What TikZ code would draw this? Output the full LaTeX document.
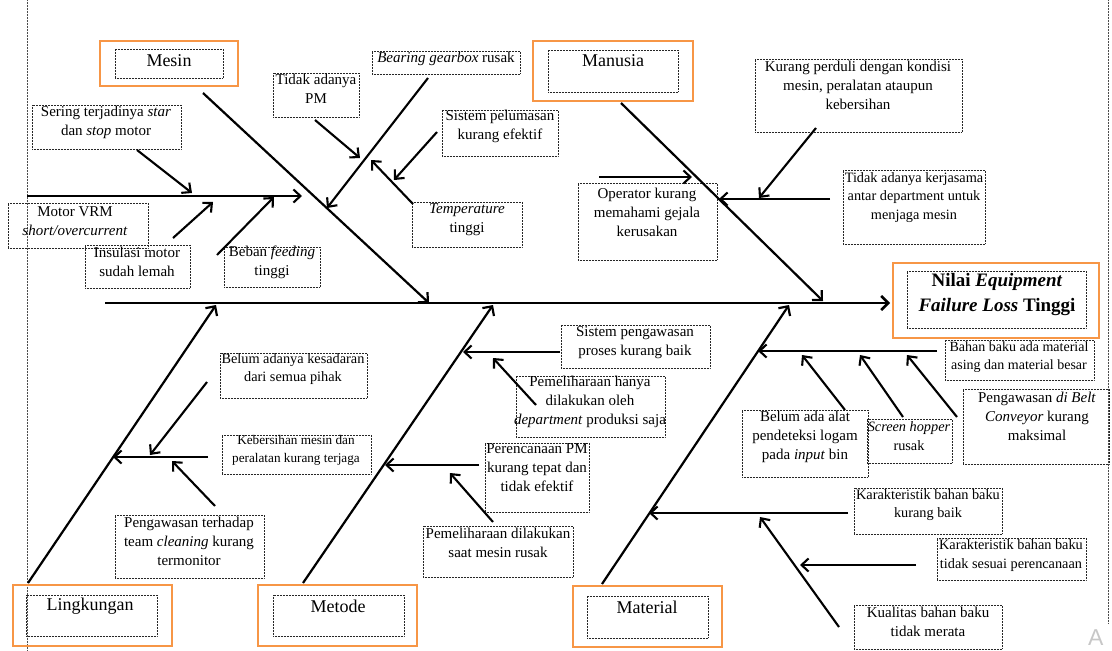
\documentclass[tikz,border=0pt]{standalone}
\usepackage{fontspec}
\setmainfont{Liberation Serif}
\newfontfamily\wmfont{Liberation Sans}
\usetikzlibrary{arrows.meta,fit}
\definecolor{orng}{RGB}{247,150,70}
\begin{document}
\begin{tikzpicture}[x=1pt,y=-1pt,
  dbox/.style={draw=black!85, line width=0.7pt, dash pattern=on 0.75pt off 0.75pt, inner sep=0pt},
  obox/.style={draw=orng, line width=2.6pt, inner sep=0pt},
  txt/.style={font=\fontsize{15}{19}\selectfont, align=center, inner sep=0pt},
  txts/.style={font=\fontsize{14.3}{18.5}\selectfont, align=center, inner sep=0pt},
  txtk/.style={font=\fontsize{13.2}{17.5}\selectfont, align=center, inner sep=0pt},
  cat/.style={font=\fontsize{18}{22}\selectfont, inner sep=0pt},
  bone/.style={line width=2.2pt, -{Straight Barb[length=7pt,width=14pt]}},
  arr/.style={line width=2.1pt, -{Straight Barb[length=7pt,width=13pt]}},
  guide/.style={draw=black!70, line width=0.7pt, dash pattern=on 0.75pt off 0.75pt}
]
\useasboundingbox (0,0) rectangle (1112,651);

% page guide lines
\coordinate (gL1) at (27,0);   \coordinate (gL2) at (27,651);
\coordinate (gR1) at (1108,0); \coordinate (gR2) at (1108,624);
\draw[guide] (gL1) -- (gL2);
\draw[guide] (gR1) -- (gR2);

% ===== category boxes =====
\node[obox, fit={(100,41) (238,86)}] (oMesin) {};
\node[dbox, fit={(115,49) (223,78)}] (iMesin) {};
\node[cat] (tMesin) at (169,61) {Mesin};

\node[obox, fit={(533,41) (693,101)}] (oManusia) {};
\node[dbox, fit={(548,50) (678,92)}] (iManusia) {};
\node[cat] (tManusia) at (613,61) {Manusia};

\node[obox, fit={(893,263) (1099,338)}] (oEffect) {};
\node[dbox, fit={(907,271) (1086,328)}] (iEffect) {};
\node[font=\fontsize{19}{25}\selectfont\bfseries, align=center, inner sep=0pt] (tEffect) at (997,295)
  {Nilai \textit{Equipment}\\\textit{Failure Loss} Tinggi};

\node[obox, fit={(13,585) (172,646)}] (oLing) {};
\node[dbox, fit={(26,595) (157,636)}] (iLing) {};
\node[cat] (tLing) at (90,606) {Lingkungan};

\node[obox, fit={(258,585) (417,646)}] (oMetode) {};
\node[dbox, fit={(273,595) (404,636)}] (iMetode) {};
\node[cat] (tMetode) at (338,606) {Metode};

\node[obox, fit={(573,586) (722,647)}] (oMaterial) {};
\node[dbox, fit={(587,596) (708,638)}] (iMaterial) {};
\node[cat] (tMaterial) at (647,607) {Material};

% ===== cause boxes =====
\node[dbox, fit={(32,105) (181,149)}] (bSering) {};
\node[txt] at (106,122.5) {Sering terjadinya \textit{star}\\dan \textit{stop} motor};

\node[dbox, fit={(8,203) (148,248)}] (bMotor) {};
\node[txt] at (75,221) {Motor VRM\\\textit{short/overcurrent}};

\node[dbox, fit={(85,245) (190,288)}] (bInsulasi) {};
\node[txt] at (137,261.5) {Insulasi motor\\sudah lemah};

\node[dbox, fit={(224,247) (320,287)}] (bBeban) {};
\node[txt] at (272,262.5) {Beban \textit{feeding}\\tinggi};

\node[dbox, fit={(273,73) (359,117)}] (bTidakPM) {};
\node[txt] at (316,89) {Tidak adanya\\PM};

\node[dbox, fit={(372,51) (520,74)}] (bBearing) {};
\node[txt] at (446,59) {\textit{Bearing gearbox} rusak};

\node[dbox, fit={(442,110) (558,156)}] (bPelumasan) {};
\node[txt] at (500,126.5) {Sistem pelumasan\\kurang efektif};

\node[dbox, fit={(412,202) (522,247)}] (bTemp) {};
\node[txt] at (467,219.5) {\textit{Temperature}\\tinggi};

\node[dbox, fit={(755,59) (962,132)}] (bPerduli) {};
\node[txt] at (858,85.5) {Kurang perduli dengan kondisi\\mesin, peralatan ataupun\\kebersihan};

\node[dbox, fit={(843,170) (985,244)}] (bKerjasama) {};
\node[txts] at (914,197.5) {Tidak adanya kerjasama\\antar department untuk\\menjaga mesin};

\node[dbox, fit={(578,183) (717,260)}] (bOperator) {};
\node[txt] at (647,212.5) {Operator kurang\\memahami gejala\\kerusakan};

\node[dbox, fit={(220,353) (367,398)}] (bKesadaran) {};
\node[txts] at (293,369) {Belum adanya kesadaran\\dari semua pihak};

\node[dbox, fit={(222,435) (371,474)}] (bKebersihan) {};
\node[txtk] at (296,450.5) {Kebersihan mesin dan\\peralatan kurang terjaga};

\node[dbox, fit={(115,515) (264,578)}] (bCleaning) {};
\node[txt] at (189,541.5) {Pengawasan terhadap\\team \textit{cleaning} kurang\\termonitor};

\node[dbox, fit={(561,325) (710,368)}] (bSistemPeng) {};
\node[txt] at (635,342.5) {Sistem pengawasan\\proses kurang baik};

\node[dbox, fit={(516,376) (665,437)}] (bPemHanya) {};
\node[txt] at (590,402) {Pemeliharaan hanya\\dilakukan oleh\\\textit{department} produksi saja};

\node[dbox, fit={(485,443) (589,512)}] (bPerencanaan) {};
\node[txt] at (537,468) {Perencanaan PM\\kurang tepat dan\\tidak efektif};

\node[dbox, fit={(423,526) (573,577)}] (bPemRusak) {};
\node[txt] at (498,542.5) {Pemeliharaan dilakukan\\saat mesin rusak};

\node[dbox, fit={(945,340) (1094,380)}] (bBahan) {};
\node[font=\fontsize{14}{18.5}\selectfont, align=center, inner sep=0pt] at (1019,357) {Bahan baku ada material\\asing dan material besar};

\node[dbox, fit={(742,410) (868,477)}] (bAlat) {};
\node[txt] at (805,437) {Belum ada alat\\pendeteksi logam\\pada \textit{input} bin};

\node[dbox, fit={(867,419) (952,463)}] (bScreen) {};
\node[txts] at (909,436) {\textit{Screen hopper}\\rusak};

\node[dbox, fit={(963,389) (1109,464)}] (bBelt) {};
\node[txt] at (1037,416.5) {Pengawasan \textit{di Belt}\\\textit{Conveyor} kurang\\maksimal};

\node[dbox, fit={(854,488) (1002,534)}] (bKarBaik) {};
\node[txts] at (928,505) {Karakteristik bahan baku\\kurang baik};

\node[dbox, fit={(937,538) (1086,580)}] (bKarSesuai) {};
\node[txts] at (1011,555.5) {Karakteristik bahan baku\\tidak sesuai perencanaan};

\node[dbox, fit={(854,605) (1002,649)}] (bKualitas) {};
\node[txt] at (928,622) {Kualitas bahan baku\\tidak merata};

% watermark fragment
\node[font=\wmfont\fontsize{23}{23}\selectfont, text=black!22, anchor=south west, inner sep=0pt] (wm) at (1088,646) {A};

% ===== coordinates =====
\coordinate (spS) at (105,303);  \coordinate (spE) at (890,303);
% Mesin
\coordinate (meS) at (203,93);   \coordinate (meE) at (429,303);
\coordinate (mhS) at (27,196);   \coordinate (mhE) at (302,196);
\coordinate (srS) at (137,150);  \coordinate (srE) at (192,193);
\coordinate (inS) at (173,238);  \coordinate (inE) at (213,202);
\coordinate (bbS) at (217,255);  \coordinate (bbE) at (274,197);
\coordinate (brS) at (428,78);   \coordinate (brE) at (327,208);
\coordinate (pmS) at (315,120);  \coordinate (pmE) at (360,158);
\coordinate (plS) at (437,132);  \coordinate (plE) at (394,180);
\coordinate (tpS) at (413,204);  \coordinate (tpE) at (371,160);
% Manusia
\coordinate (maS) at (621,103);  \coordinate (maE) at (823,301);
\coordinate (opS) at (599,177);  \coordinate (opE) at (692,177);
\coordinate (khS) at (830,199);  \coordinate (khE) at (719,199);
\coordinate (pdS) at (816,128);  \coordinate (pdE) at (759,198);
% Lingkungan
\coordinate (liS) at (28,583);   \coordinate (liE) at (216,305);
\coordinate (lhS) at (208,457);  \coordinate (lhE) at (113,457);
\coordinate (ksS) at (207,382);  \coordinate (ksE) at (150,455);
\coordinate (clS) at (215,506);  \coordinate (clE) at (172,461);
% Metode
\coordinate (mtS) at (303,583);  \coordinate (mtE) at (493,305);
\coordinate (h1S) at (560,352);  \coordinate (h1E) at (463,352);
\coordinate (phS) at (536,405);  \coordinate (phE) at (493,358);
\coordinate (h2S) at (479,465);  \coordinate (h2E) at (385,465);
\coordinate (prS) at (493,522);  \coordinate (prE) at (450,473);
% Material
\coordinate (mlS) at (602,584);  \coordinate (mlE) at (789,305);
\coordinate (m1S) at (937,351);  \coordinate (m1E) at (758,351);
\coordinate (a1S) at (845,410);  \coordinate (a1E) at (802,355);
\coordinate (a2S) at (903,417);  \coordinate (a2E) at (860,355);
\coordinate (a3S) at (957,417);  \coordinate (a3E) at (907,355);
\coordinate (m2S) at (848,513);  \coordinate (m2E) at (649,513);
\coordinate (ksaS) at (916,565); \coordinate (ksaE) at (800,565);
\coordinate (kuS) at (839,627);  \coordinate (kuE) at (760,517);

% ===== connectors =====
\draw[line width=2.6pt, -{Straight Barb[length=7pt,width=14pt]}] (spS) -- (spE);
\draw[bone] (meS) -- (meE);
\draw[arr] (mhS) -- (mhE);
\draw[arr] (srS) -- (srE);
\draw[arr] (inS) -- (inE);
\draw[arr] (bbS) -- (bbE);
\draw[arr] (brS) -- (brE);
\draw[arr] (pmS) -- (pmE);
\draw[arr] (plS) -- (plE);
\draw[arr] (tpS) -- (tpE);

\draw[bone] (maS) -- (maE);
\draw[arr] (opS) -- (opE);
\draw[arr] (khS) -- (khE);
\draw[arr] (pdS) -- (pdE);

\draw[bone] (liS) -- (liE);
\draw[arr] (lhS) -- (lhE);
\draw[arr] (ksS) -- (ksE);
\draw[arr] (clS) -- (clE);

\draw[bone] (mtS) -- (mtE);
\draw[arr] (h1S) -- (h1E);
\draw[arr] (phS) -- (phE);
\draw[arr] (h2S) -- (h2E);
\draw[arr] (prS) -- (prE);

\draw[bone] (mlS) -- (mlE);
\draw[arr] (m1S) -- (m1E);
\draw[arr] (a1S) -- (a1E);
\draw[arr] (a2S) -- (a2E);
\draw[arr] (a3S) -- (a3E);
\draw[arr] (m2S) -- (m2E);
\draw[arr] (ksaS) -- (ksaE);
\draw[arr] (kuS) -- (kuE);
\end{tikzpicture}
\end{document}
